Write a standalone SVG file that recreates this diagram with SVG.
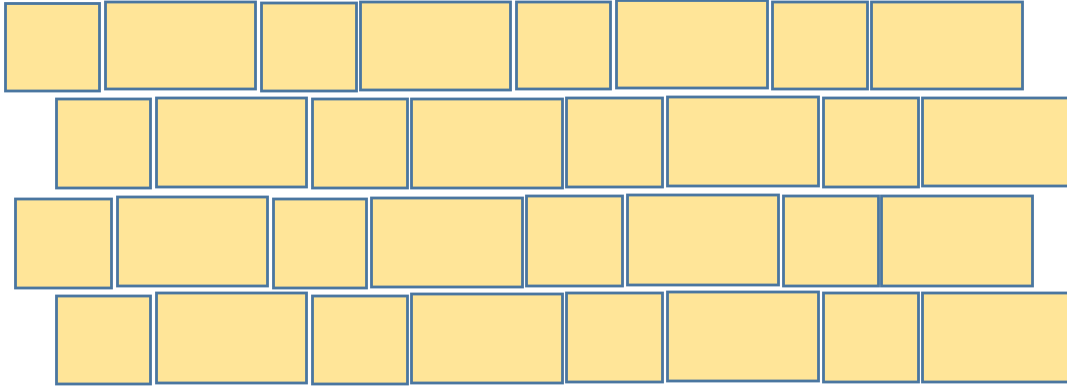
<svg xmlns="http://www.w3.org/2000/svg" width="1067" height="387" viewBox="0 0 1067 387">
<style>
.b{fill:#FFE598;stroke:#4A76A0;stroke-width:2.8}
</style>
<rect width="1067" height="387" fill="#ffffff"/>
<g id="row1">
<rect class="b" x="5.5" y="3.5" width="94" height="87.5"/>
<rect class="b" x="105.5" y="2" width="150" height="87"/>
<rect class="b" x="261.5" y="3" width="95" height="88"/>
<rect class="b" x="360.5" y="2" width="150" height="88"/>
<rect class="b" x="516.5" y="2" width="94" height="87"/>
<rect class="b" x="616.5" y="0.5" width="151" height="87.5"/>
<rect class="b" x="772.5" y="2" width="95" height="87"/>
<rect class="b" x="871.5" y="2" width="151" height="87"/>
</g>
<g id="row2">
<rect class="b" x="56.5" y="99" width="94" height="89"/>
<rect class="b" x="156.5" y="98" width="150" height="89"/>
<rect class="b" x="312.5" y="99" width="95" height="89"/>
<rect class="b" x="411.5" y="99" width="151" height="89"/>
<rect class="b" x="566.5" y="98" width="96" height="89"/>
<rect class="b" x="667.5" y="97" width="151" height="89"/>
<rect class="b" x="823.5" y="98" width="95" height="89"/>
<rect class="b" x="922.5" y="98" width="150" height="88"/>
</g>
<g id="row3">
<rect class="b" x="15.5" y="199" width="96" height="89"/>
<rect class="b" x="117.5" y="197" width="150" height="89"/>
<rect class="b" x="273.5" y="199" width="93" height="89"/>
<rect class="b" x="371.5" y="198" width="151" height="89"/>
<rect class="b" x="526.5" y="196" width="96" height="90"/>
<rect class="b" x="627.5" y="195" width="151" height="90"/>
<rect class="b" x="783.5" y="196" width="95" height="90"/>
<rect class="b" x="881.5" y="196" width="151" height="90"/>
</g>
<g id="row4">
<rect class="b" x="56.5" y="296" width="94" height="88"/>
<rect class="b" x="156.5" y="293" width="150" height="90"/>
<rect class="b" x="312.5" y="296" width="95" height="88"/>
<rect class="b" x="411.5" y="294" width="151" height="89"/>
<rect class="b" x="566.5" y="293" width="96" height="89"/>
<rect class="b" x="667.5" y="292" width="151" height="89"/>
<rect class="b" x="823.5" y="293" width="95" height="89"/>
<rect class="b" x="922.5" y="293" width="150" height="89"/>
</g>
</svg>
